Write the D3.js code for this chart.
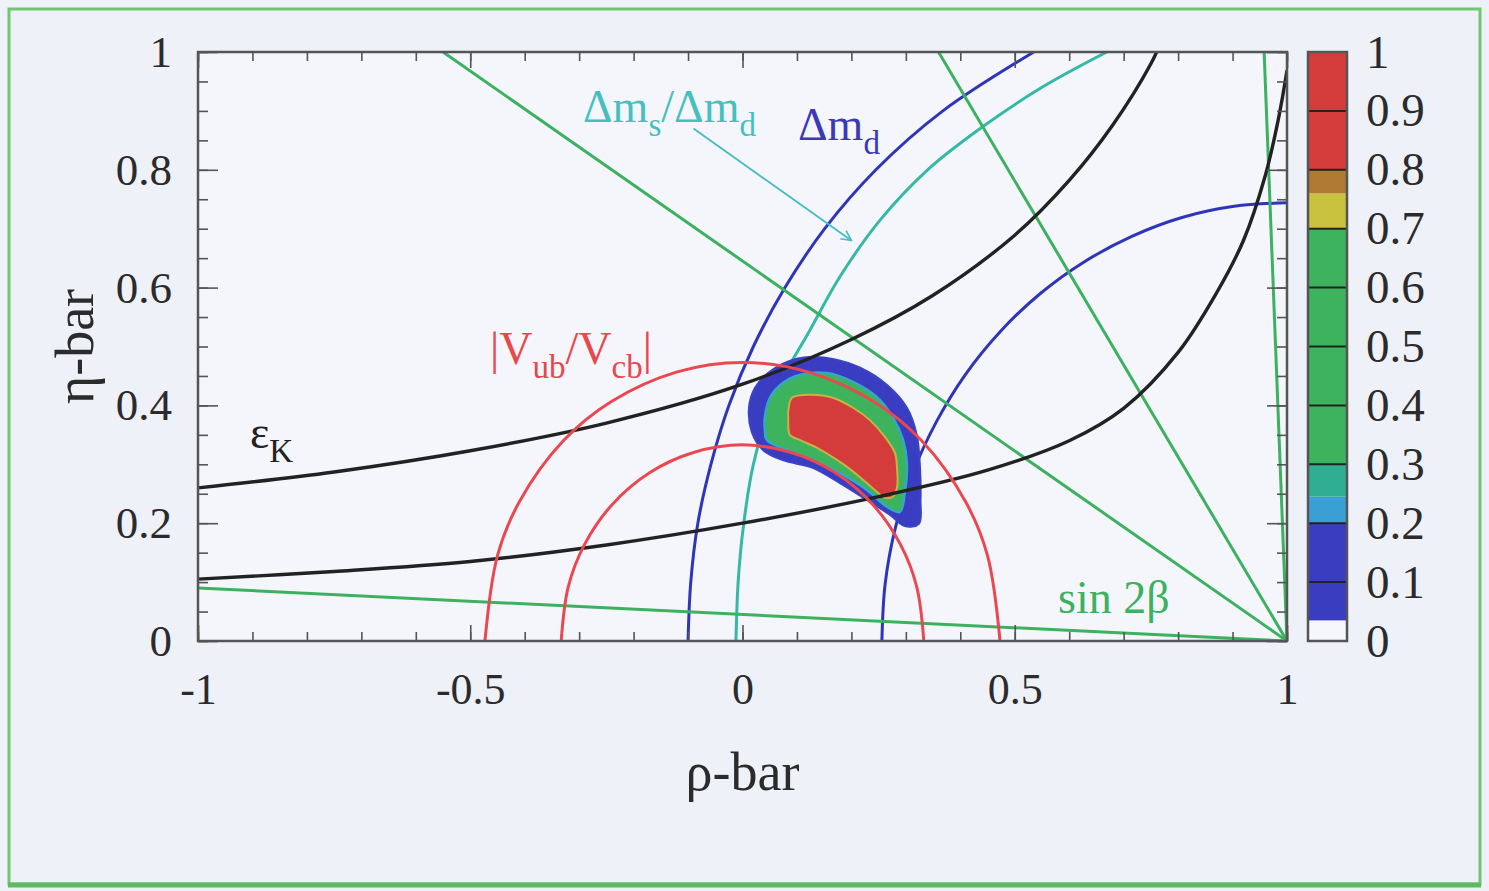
<!DOCTYPE html>
<html>
<head>
<meta charset="utf-8">
<script src="https://cdn.jsdelivr.net/npm/d3@7"></script>
<style>
  html, body { margin: 0; padding: 0; background: #eef1f8; }
  #chart { width: 1489px; height: 891px; }
  text { font-family: "Liberation Serif", "Times New Roman", serif; }
</style>
</head>
<body>
<div id="chart"></div>
<script>
////////////// DATA //////////////

const rhoMajor = [-1, -0.5, 0, 0.5, 1];
const etaMajor = [0, 0.2, 0.4, 0.6, 0.8, 1];
const cbTickValues = [0, 0.1, 0.2, 0.3, 0.4, 0.5, 0.6, 0.7, 0.8, 0.9, 1];

// constraint curves, points are [rho-bar, eta-bar]
const vubOuter = [[-0.473, 0], [-0.45, 0.145], [-0.41, 0.236], [-0.33, 0.339], [-0.24, 0.407],
    [-0.12, 0.457], [0, 0.473], [0.12, 0.457], [0.24, 0.407], [0.33, 0.339], [0.41, 0.236],
    [0.45, 0.145], [0.473, 0]];
const vubInner = [[-0.333, 0], [-0.32, 0.092], [-0.29, 0.164], [-0.24, 0.231], [-0.17, 0.286],
    [-0.09, 0.32], [0, 0.333], [0.09, 0.32], [0.17, 0.286], [0.24, 0.231], [0.29, 0.164],
    [0.32, 0.092], [0.333, 0]];
const dmdOuter = [[-0.1, 0], [-0.095, 0.1], [-0.082, 0.2], [-0.058, 0.3], [-0.025, 0.4],
    [0.02, 0.5], [0.078, 0.6], [0.151, 0.7], [0.245, 0.8], [0.368, 0.9], [0.535, 1.0]];
const dmdInner = [[0.256, 0], [0.262, 0.097], [0.281, 0.193], [0.313, 0.286], [0.356, 0.372],
    [0.409, 0.452], [0.474, 0.526], [0.547, 0.59], [0.628, 0.644], [0.715, 0.687],
    [0.807, 0.719], [0.903, 0.738], [1.0, 0.744]];
const dmsRatio = [[-0.012, 0], [-0.008, 0.1], [0.001, 0.19], [0.02, 0.3], [0.06, 0.42],
    [0.124, 0.528], [0.18, 0.62], [0.253, 0.715], [0.34, 0.8], [0.441, 0.873], [0.55, 0.94],
    [0.669, 1.0]];
const epsUpper = [[-1, 0.26], [-0.75, 0.287], [-0.5, 0.323], [-0.25, 0.37], [0, 0.436],
    [0.2, 0.512], [0.35, 0.587], [0.5, 0.689], [0.6, 0.782], [0.68, 0.876], [0.75, 0.98],
    [0.77, 1.02]];
const epsLower = [[-1, 0.105], [-0.75, 0.118], [-0.5, 0.135], [-0.25, 0.163], [0, 0.2],
    [0.25, 0.245], [0.45, 0.29], [0.6, 0.34], [0.7, 0.395], [0.8, 0.49], [0.87, 0.59],
    [0.92, 0.68], [0.96, 0.79], [0.985, 0.89], [1.0, 0.969]];
// sin 2beta: rays leaving the apex (1,0), far ends
const sin2bApex = [1, 0];
const sin2bEnds = [[-0.55, 1], [-1, 0.09], [0.36, 1], [0.958, 1]];

// probability regions (outer edge of each level)
const probBlue = [[0.082, 0.474], [0.124, 0.482], [0.166, 0.479], [0.216, 0.464], [0.265, 0.435],
    [0.302, 0.396], [0.32, 0.35], [0.326, 0.294], [0.327, 0.239], [0.324, 0.199], [0.298, 0.195],
    [0.271, 0.214], [0.219, 0.245], [0.179, 0.268], [0.129, 0.294], [0.074, 0.307],
    [0.038, 0.324], [0.017, 0.355], [0.012, 0.397], [0.023, 0.43], [0.047, 0.455]];
const probGreen = [[0.074, 0.438], [0.106, 0.452], [0.155, 0.455], [0.203, 0.44], [0.247, 0.414],
    [0.276, 0.38], [0.295, 0.341], [0.302, 0.302], [0.298, 0.251], [0.289, 0.219], [0.265, 0.228],
    [0.229, 0.256], [0.179, 0.285], [0.118, 0.312], [0.045, 0.341], [0.041, 0.358],
    [0.041, 0.38], [0.051, 0.414]];
const probRed = [[0.091, 0.413], [0.124, 0.418], [0.166, 0.413], [0.203, 0.396], [0.234, 0.375],
    [0.262, 0.346], [0.28, 0.319], [0.284, 0.29], [0.284, 0.262], [0.276, 0.245], [0.262, 0.243],
    [0.247, 0.253], [0.216, 0.278], [0.179, 0.304], [0.137, 0.328], [0.106, 0.341],
    [0.087, 0.35], [0.084, 0.375], [0.085, 0.397]];

// colour bar level boundaries
const cbStops = [0, 0.035, 0.2, 0.245, 0.3, 0.7, 0.76, 0.8, 1.0];

// Delta m_s / Delta m_d pointer
const dmsArrow = [[-0.09, 0.87], [0.2, 0.68]];

////////////// CHART //////////////

function drawUTfitPlot() {
    const W = 1489, H = 891;
    const plotL = 198, plotR = 1287, plotT = 52, plotB = 641;
    const cbL = 1308, cbR = 1347;

    const cbColors = ["#f5f7fc", "#3a3dc0", "#3a9fd4", "#2fae92", "#3db35e", "#c9c23e", "#b07a34", "#d43c3c"];

    const svg = d3.select("#chart").append("svg")
        .attr("width", W)
        .attr("height", H);

    // outer frame
    svg.append("rect")
        .attr("x", 9).attr("y", 9)
        .attr("width", 1471).attr("height", 875)
        .attr("fill", "#eef1f8")
        .attr("stroke", "#72c672")
        .attr("stroke-width", 3);
    svg.append("line")
        .attr("x1", 8).attr("x2", 1481)
        .attr("y1", 885).attr("y2", 885)
        .attr("stroke", "#5cba60")
        .attr("stroke-width", 5);

    const x = d3.scaleLinear().domain([-1, 1]).range([plotL, plotR]);
    const y = d3.scaleLinear().domain([0, 1]).range([plotB, plotT]);

    svg.append("rect")
        .attr("x", plotL).attr("y", plotT)
        .attr("width", plotR - plotL).attr("height", plotB - plotT)
        .attr("fill", "#f4f6fc");

    svg.append("clipPath").attr("id", "plotClip")
        .append("rect")
        .attr("x", plotL).attr("y", plotT)
        .attr("width", plotR - plotL).attr("height", plotB - plotT);

    const plot = svg.append("g").attr("clip-path", "url(#plotClip)");

    const curve = d3.line()
        .x(d => x(d[0]))
        .y(d => y(d[1]))
        .curve(d3.curveCatmullRom.alpha(0.5));

    const region = d3.line()
        .x(d => x(d[0]))
        .y(d => y(d[1]))
        .curve(d3.curveCatmullRomClosed.alpha(0.5));

    function drawCurve(pts, color, width) {
        plot.append("path")
            .attr("d", curve(pts))
            .attr("fill", "none")
            .attr("stroke", color)
            .attr("stroke-width", width || 3);
    }

    // lines under the probability region
    drawCurve(dmsRatio, "#35b9a6");
    drawCurve(dmdOuter, "#2f35b8");
    drawCurve(dmdInner, "#2f35b8");

    sin2bEnds.forEach(function (end) {
        plot.append("path")
            .attr("d", d3.line().x(d => x(d[0])).y(d => y(d[1]))([sin2bApex, end]))
            .attr("stroke", "#3cb15f")
            .attr("stroke-width", 3)
            .attr("fill", "none");
    });

    // probability region
    plot.append("path")
        .attr("d", region(probBlue))
        .attr("fill", "#3a3dc2")
        .attr("stroke", "#3a44c4")
        .attr("stroke-width", 2);
    plot.append("path")
        .attr("d", region(probGreen))
        .attr("fill", "#3db35e")
        .attr("stroke", "#35a7c6")
        .attr("stroke-width", 2.5);
    plot.append("path")
        .attr("d", region(probRed))
        .attr("fill", "#d43c3c")
        .attr("stroke", "#c8b243")
        .attr("stroke-width", 2);

    // lines on top
    drawCurve(epsUpper, "#222222", 3.4);
    drawCurve(epsLower, "#222222", 3.4);
    drawCurve(vubOuter, "#ea4850");
    drawCurve(vubInner, "#ea4850");

    // arrow for Delta m_s / Delta m_d
    svg.append("defs").append("marker")
        .attr("id", "arrowHead")
        .attr("viewBox", "0 0 12 12")
        .attr("refX", 11).attr("refY", 6)
        .attr("markerWidth", 12).attr("markerHeight", 12)
        .attr("markerUnits", "userSpaceOnUse")
        .attr("orient", "auto")
        .append("path")
        .attr("d", "M1,1 L11,6 L1,11")
        .attr("fill", "none")
        .attr("stroke", "#45bcc4")
        .attr("stroke-width", 1.6);

    svg.append("line")
        .attr("x1", x(dmsArrow[0][0])).attr("y1", y(dmsArrow[0][1]))
        .attr("x2", x(dmsArrow[1][0])).attr("y2", y(dmsArrow[1][1]))
        .attr("stroke", "#45bcc4")
        .attr("stroke-width", 1.8)
        .attr("marker-end", "url(#arrowHead)");

    // axes: ticks point inward on all four sides
    const rhoMinor = d3.range(-1, 1.0001, 0.1);
    const etaMinor = d3.range(0, 1.0001, 0.05);
    const fmt = d => String(+d.toFixed(2));

    function styleAxis(g, size) {
        g.select(".domain").remove();
        g.selectAll("line").attr("stroke", "#555").attr("stroke-width", 1.6);
        g.selectAll("text")
            .attr("fill", "#2b2b2b")
            .style("font-size", (size || 44) + "px");
    }

    svg.append("g").attr("transform", `translate(0,${plotB})`)
        .call(d3.axisBottom(x).tickValues(rhoMinor).tickSizeInner(-9).tickSizeOuter(0).tickFormat(""))
        .call(styleAxis);
    svg.append("g").attr("transform", `translate(0,${plotB})`)
        .call(d3.axisBottom(x).tickValues(rhoMajor).tickSizeInner(-16).tickSizeOuter(0).tickPadding(32).tickFormat(fmt))
        .call(styleAxis);
    svg.append("g").attr("transform", `translate(0,${plotT})`)
        .call(d3.axisTop(x).tickValues(rhoMinor).tickSizeInner(-9).tickSizeOuter(0).tickFormat(""))
        .call(styleAxis);
    svg.append("g").attr("transform", `translate(0,${plotT})`)
        .call(d3.axisTop(x).tickValues(rhoMajor).tickSizeInner(-16).tickSizeOuter(0).tickFormat(""))
        .call(styleAxis);

    svg.append("g").attr("transform", `translate(${plotL},0)`)
        .call(d3.axisLeft(y).tickValues(etaMinor).tickSizeInner(-10).tickSizeOuter(0).tickFormat(""))
        .call(styleAxis);
    svg.append("g").attr("transform", `translate(${plotL},0)`)
        .call(d3.axisLeft(y).tickValues(etaMajor).tickSizeInner(-20).tickSizeOuter(0).tickPadding(26).tickFormat(fmt))
        .call(styleAxis, 45);
    svg.append("g").attr("transform", `translate(${plotR},0)`)
        .call(d3.axisRight(y).tickValues(etaMinor).tickSizeInner(-10).tickSizeOuter(0).tickFormat(""))
        .call(styleAxis);
    svg.append("g").attr("transform", `translate(${plotR},0)`)
        .call(d3.axisRight(y).tickValues(etaMajor).tickSizeInner(-20).tickSizeOuter(0).tickFormat(""))
        .call(styleAxis);

    svg.append("rect")
        .attr("x", plotL).attr("y", plotT)
        .attr("width", plotR - plotL).attr("height", plotB - plotT)
        .attr("fill", "none")
        .attr("stroke", "#555")
        .attr("stroke-width", 2.5);

    // axis titles
    svg.append("text")
        .attr("x", x(0)).attr("y", 790)
        .attr("text-anchor", "middle")
        .attr("fill", "#2b2b2b")
        .style("font-size", "54px")
        .text("ρ-bar");
    svg.append("text")
        .attr("transform", `translate(93,${y(0.5)}) rotate(-90)`)
        .attr("text-anchor", "middle")
        .attr("fill", "#2b2b2b")
        .style("font-size", "54px")
        .text("η-bar");

    // colour bar
    const cbY = d3.scaleLinear().domain([0, 1]).range([plotB, plotT]);
    const bands = d3.pairs(cbStops);
    svg.append("g").selectAll("rect")
        .data(bands)
        .enter()
        .append("rect")
        .attr("x", cbL)
        .attr("width", cbR - cbL)
        .attr("y", d => cbY(d[1]))
        .attr("height", d => cbY(d[0]) - cbY(d[1]))
        .attr("fill", (d, i) => cbColors[i]);

    svg.append("g").selectAll("line")
        .data(cbTickValues.slice(1, -1))
        .enter()
        .append("line")
        .attr("x1", cbL).attr("x2", cbR)
        .attr("y1", d => cbY(d)).attr("y2", d => cbY(d))
        .attr("stroke", "#222")
        .attr("stroke-width", 2);

    svg.append("rect")
        .attr("x", cbL).attr("y", plotT)
        .attr("width", cbR - cbL).attr("height", plotB - plotT)
        .attr("fill", "none")
        .attr("stroke", "#555")
        .attr("stroke-width", 2.5);

    svg.append("g").attr("transform", `translate(${cbR},0)`)
        .call(d3.axisRight(cbY).tickValues(cbTickValues).tickSize(0).tickPadding(19).tickFormat(fmt))
        .call(styleAxis, 47);

    // curve labels with subscripts
    function label(px, py, parts, color, size) {
        const t = svg.append("text")
            .attr("x", px).attr("y", py)
            .attr("fill", color)
            .style("font-size", size + "px");
        let shift = 0;
        parts.forEach(function (p) {
            const sub = p[1] === "sub";
            const dy = sub ? size * 0.3 - shift : -shift;
            shift = sub ? size * 0.3 : 0;
            t.append("tspan")
                .attr("dy", dy)
                .style("font-size", (sub ? size * 0.72 : size) + "px")
                .text(p[0]);
        });
    }

    label(583, 122, [["Δm", ""], ["s", "sub"], ["/Δm", ""], ["d", "sub"]], "#47bfc0", 46);
    label(798, 140, [["Δm", ""], ["d", "sub"]], "#3a3ab8", 46);
    label(490, 364, [["|V", ""], ["ub", "sub"], ["/V", ""], ["cb", "sub"], ["|", ""]], "#e8474c", 46);
    label(250, 448, [["ε", ""], ["K", "sub"]], "#222222", 46);
    label(1058, 613, [["sin 2β", ""]], "#3cb15f", 46);
}

drawUTfitPlot();
</script>
</body>
</html>
